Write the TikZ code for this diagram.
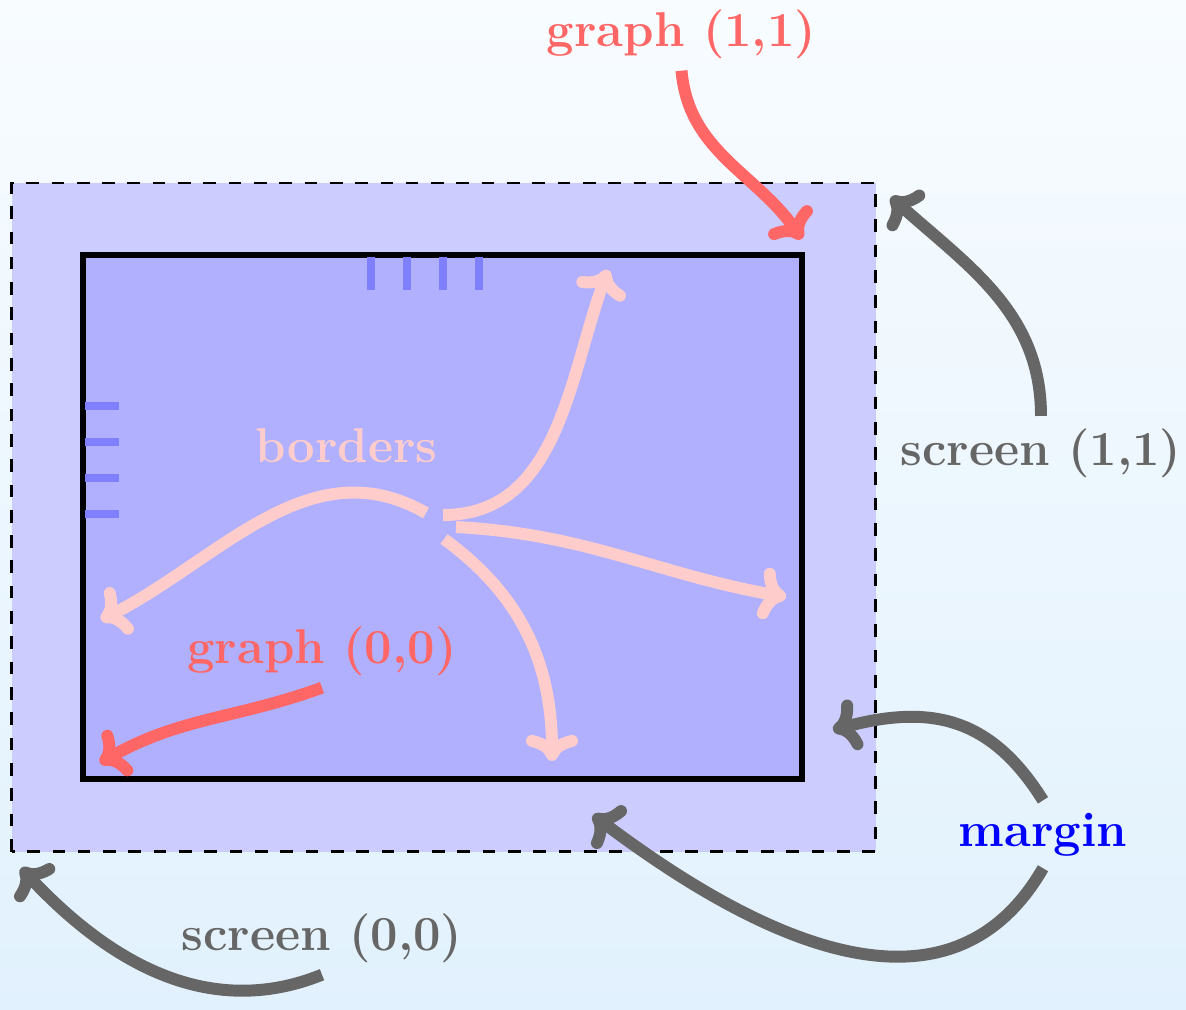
\documentclass[tikz,border=0pt]{standalone}
\usepackage{tikz}
\usetikzlibrary{arrows.meta}

\definecolor{skytop}{RGB}{248,252,255}
\definecolor{skybot}{RGB}{225,241,253}

\begin{document}
\begin{tikzpicture}[>={Computer Modern Rightarrow[length=2.6mm,width=5.2mm]},
  every node/.style={font=\fontsize{13.9}{16}\selectfont\bfseries, anchor=base},
  pointer/.style={->, line width=3.4pt},
  tickmark/.style={blue!50, line width=2.5pt}]
% background and the two frames
\useasboundingbox (0,0) rectangle (11.86,10.09);
\shade[top color=skytop, bottom color=skybot] (-0.05,-0.05) rectangle (11.91,10.14);
\coordinate (outerlo) at (0.115,1.575);
\coordinate (outerhi) at (8.755,8.26);
\coordinate (innerlo) at (0.83,2.30);
\coordinate (innerhi) at (8.02,7.54);
\fill[blue!20] (outerlo) rectangle (outerhi);
\draw[semithick, dash pattern=on 3.6pt off 3.6pt] (outerlo) rectangle (outerhi);
\fill[blue!31] (innerlo) rectangle (innerhi);
\draw[line width=1.7pt] (innerlo) rectangle (innerhi);
\draw[tickmark] (3.71,7.52) -- (3.71,7.19) (4.07,7.52) -- (4.07,7.19)
  (4.43,7.52) -- (4.43,7.19) (4.79,7.52) -- (4.79,7.19);
\draw[tickmark] (0.85,6.03) -- (1.19,6.03) (0.85,5.67) -- (1.19,5.67)
  (0.85,5.31) -- (1.19,5.31) (0.85,4.95) -- (1.19,4.95);

% labels
\node (graphhi) [red!60] at (6.815,9.63) {graph (1,1)};
\node (screenhi) [black!60] at (10.41,5.44) {screen (1,1)};
\node (borders) [red!20] at (3.465,5.47) {borders};
\node (graphlo) [red!60] at (3.22,3.46) {graph (0,0)};
\node (margin) [blue] at (10.43,1.63) {margin};
\node (screenlo) [black!60] at (3.22,0.59) {screen (0,0)};

% arrow targets
\coordinate (hub) at (4.35,4.84);
\coordinate (btop) at (6.08,7.39);
\coordinate (bright) at (7.86,4.12);
\coordinate (bbot) at (5.52,2.48);
\coordinate (bleft) at (1.01,3.89);
\coordinate (mright) at (8.33,2.79);
\coordinate (mbot) at (5.93,1.94);

\draw[pointer,red!60] (graphhi.south) to[out=-85,in=125] ([yshift=0.16cm]innerhi);
\draw[pointer,black!60] (screenhi.north) to[out=90,in=-42] ([shift={(0.155,-0.14)}]outerhi);
\draw[pointer,red!20] ([shift={(0.08,0.10)}]hub) to[out=0,in=-110] (btop);
\draw[pointer,red!20] ([shift={(0.21,-0.02)}]hub) to[out=-3,in=170] (bright);
\draw[pointer,red!20] ([shift={(0.09,-0.14)}]hub) to[out=-36,in=90] (bbot);
\draw[pointer,red!20] ([shift={(-0.09,0.12)}]hub) to[out=150,in=27] (bleft);
\draw[pointer,red!60] (graphlo.south) to[out=200,in=30] ([shift={(0.17,0.16)}]innerlo);
\draw[pointer,black!60] (margin.north) to[out=122,in=15,looseness=1.15] (mright);
\draw[pointer,black!60] (margin.south) to[out=-120,in=-37,looseness=1.1] (mbot);
\draw[pointer,black!60] (screenlo.south) to[out=202,in=-47] ([shift={(0.095,-0.165)}]outerlo);
\end{tikzpicture}
\end{document}
